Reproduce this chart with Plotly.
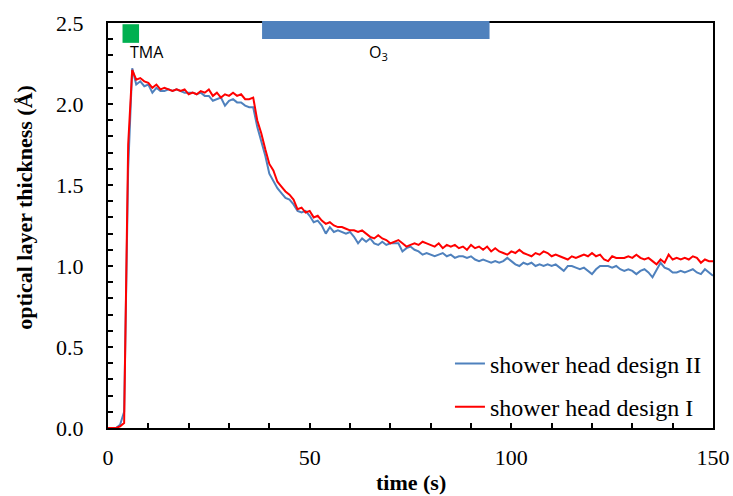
import plotly.graph_objects as go

time_s = list(range(0, 151))

design_I = [
    0.00, 0.00, 0.00, 0.01, 0.03, 1.75, 2.21, 2.15, 2.16, 2.14,
    2.13, 2.10, 2.12, 2.09, 2.10, 2.09, 2.08, 2.09, 2.08, 2.09,
    2.06, 2.07, 2.06, 2.08, 2.07, 2.09, 2.05, 2.07, 2.04, 2.06,
    2.05, 2.07, 2.05, 2.06, 2.03, 2.03, 2.04, 1.90, 1.82, 1.72,
    1.63, 1.59, 1.52, 1.49, 1.46, 1.44, 1.41, 1.35, 1.36, 1.33,
    1.34, 1.30, 1.31, 1.28, 1.26, 1.27, 1.25, 1.24, 1.24, 1.23,
    1.22, 1.22, 1.21, 1.22, 1.20, 1.18, 1.17, 1.19, 1.17, 1.16,
    1.14, 1.15, 1.16, 1.14, 1.12, 1.13, 1.14, 1.13, 1.15, 1.14,
    1.13, 1.12, 1.14, 1.11, 1.13, 1.12, 1.13, 1.11, 1.12, 1.10,
    1.13, 1.11, 1.12, 1.10, 1.12, 1.09, 1.11, 1.09, 1.08, 1.07,
    1.09, 1.08, 1.10, 1.08, 1.07, 1.06, 1.08, 1.07, 1.09, 1.08,
    1.06, 1.07, 1.06, 1.05, 1.04, 1.06, 1.05, 1.06, 1.07, 1.06,
    1.08, 1.06, 1.07, 1.04, 1.03, 1.06, 1.05, 1.05, 1.05, 1.06,
    1.05, 1.07, 1.05, 1.04, 1.05, 1.03, 1.01, 1.04, 1.02, 1.07,
    1.04, 1.05, 1.04, 1.05, 1.04, 1.06, 1.05, 1.02, 1.04, 1.03,
    1.03,
]

design_II = [
    0.00, -0.01, 0.00, 0.02, 0.10, 1.60, 2.22, 2.12, 2.14, 2.11,
    2.12, 2.07, 2.10, 2.08, 2.08, 2.09, 2.08, 2.09, 2.08, 2.07,
    2.07, 2.07, 2.06, 2.07, 2.05, 2.05, 2.02, 2.03, 2.04, 1.99,
    2.02, 2.03, 2.01, 2.01, 1.99, 1.98, 1.98, 1.86, 1.77, 1.68,
    1.57, 1.52, 1.48, 1.45, 1.42, 1.41, 1.38, 1.34, 1.33, 1.34,
    1.31, 1.27, 1.28, 1.25, 1.20, 1.24, 1.21, 1.22, 1.21, 1.20,
    1.21, 1.18, 1.14, 1.17, 1.15, 1.17, 1.14, 1.13, 1.15, 1.13,
    1.14, 1.14, 1.14, 1.09, 1.11, 1.12, 1.10, 1.09, 1.07, 1.08,
    1.07, 1.06, 1.07, 1.08, 1.06, 1.07, 1.05, 1.06, 1.06, 1.05,
    1.06, 1.04, 1.03, 1.04, 1.03, 1.02, 1.03, 1.02, 1.03, 1.05,
    1.03, 1.01, 1.00, 1.02, 1.01, 1.02, 1.00, 1.01, 1.00, 1.01,
    1.00, 1.01, 0.99, 0.97, 1.00, 1.00, 0.99, 0.98, 0.99, 0.97,
    0.95, 0.98, 1.00, 1.00, 1.00, 0.99, 1.00, 0.98, 0.97, 0.98,
    0.97, 0.95, 0.97, 0.98, 0.96, 0.93, 0.98, 1.02, 0.99, 0.98,
    0.96, 0.96, 0.97, 0.96, 0.97, 0.98, 0.96, 0.95, 0.98, 0.96,
    0.94,
]

series_names = ["shower head design II", "shower head design I"]
tma_pulse = [3.6, 7.7]
o3_pulse = [38.2, 94.6]

SERIF = "Liberation Serif, Times New Roman, serif"
SANS = "Open Sans, Liberation Sans, sans-serif"

fig = go.Figure()
fig.add_trace(go.Scatter(
    x=time_s, y=design_II, mode="lines", name=series_names[0],
    line=dict(color="#4F81BD", width=2), legendgroup="a"))
fig.add_trace(go.Scatter(
    x=time_s, y=design_I, mode="lines", name=series_names[1],
    line=dict(color="#FF0000", width=2), legendgroup="b"))

fig.add_shape(type="rect", xref="x", yref="paper",
              x0=tma_pulse[0], x1=tma_pulse[1], y0=0.951, y1=0.997,
              fillcolor="#00B050", line=dict(width=0), layer="above")
fig.add_shape(type="rect", xref="x", yref="paper",
              x0=o3_pulse[0], x1=o3_pulse[1], y0=0.9605, y1=1.005,
              fillcolor="#4F81BD", line=dict(width=0), layer="above")

fig.add_annotation(x=9.6, y=2.32, text="TMA", showarrow=False,
                   font=dict(family=SANS, size=16, color="#000"))
fig.add_annotation(x=67, y=2.32, text="O<sub>3</sub>", showarrow=False,
                   font=dict(family=SANS, size=16, color="#000"))

fig.add_annotation(xref="paper", yref="paper", x=0.5, y=-0.135,
                   yanchor="middle", text="<b>time (s)</b>", showarrow=False,
                   font=dict(family=SERIF, size=22, color="#000"))
fig.add_annotation(xref="paper", yref="paper", x=-0.138, y=0.545,
                   xanchor="center", yanchor="middle", textangle=-90,
                   text="<b>optical layer thickness (Å)</b>", showarrow=False,
                   font=dict(family=SERIF, size=22, color="#000"))

fig.update_layout(
    width=733, height=496,
    margin=dict(l=108, r=20, t=23, b=68, autoexpand=False),
    paper_bgcolor="white", plot_bgcolor="white",
    showlegend=True,
    legend=dict(x=0.99, y=0.214, xanchor="right", yanchor="top",
                bgcolor="rgba(0,0,0,0)", tracegroupgap=9,
                font=dict(family=SERIF, size=24, color="#000")),
    font=dict(family=SERIF, size=22, color="#000"),
)
fig.update_xaxes(range=[0, 150], dtick=50, showgrid=False, zeroline=False,
                 showline=True, linecolor="#000", linewidth=2, mirror=True,
                 ticks="inside", ticklen=5, tickwidth=1.5, tickcolor="#000",
                 ticklabelstandoff=9,
                 minor=dict(dtick=10, ticks="inside", ticklen=5, tickwidth=1.5,
                            tickcolor="#000", showgrid=False),
                 tickfont=dict(family=SERIF, size=22, color="#000"))
fig.update_yaxes(range=[0, 2.5], dtick=0.5, tickformat=".1f", showgrid=False,
                 zeroline=False, showline=True, linecolor="#000", linewidth=2,
                 mirror=True, ticks="inside", ticklen=5, tickwidth=1.5,
                 tickcolor="#000", ticklabelstandoff=18,
                 minor=dict(dtick=0.1, ticks="inside", ticklen=5, tickwidth=1.5,
                            tickcolor="#000", showgrid=False),
                 tickfont=dict(family=SERIF, size=22, color="#000"))

fig.write_html("out.html", config={"displayModeBar": False},
               post_script="document.body.style.margin='0';"
                           "document.body.style.overflow='hidden';")
